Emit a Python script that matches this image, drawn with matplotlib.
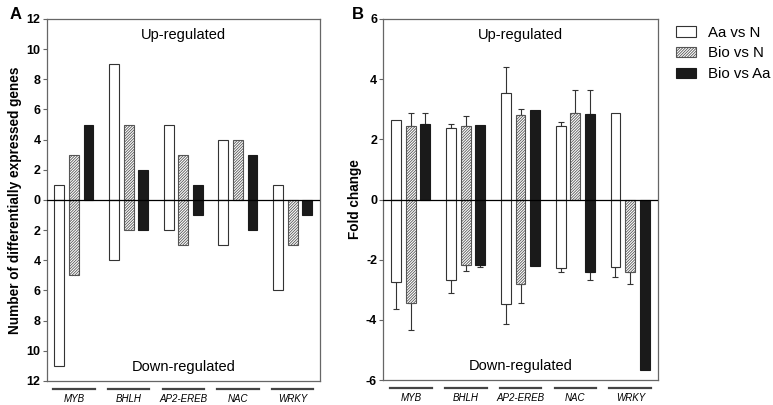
import matplotlib
matplotlib.use("Agg")
import matplotlib.pyplot as plt
import matplotlib.transforms as mtransforms
from matplotlib.patches import Patch
import numpy as np

plt.rcParams["font.family"] = ["Liberation Sans", "DejaVu Sans"]
plt.rcParams["hatch.linewidth"] = 0.6

# ============================================================
# Data
# ============================================================
families = ["MYB", "BHLH", "AP2-EREB", "NAC", "WRKY"]
series = ["Aa vs N", "Bio vs N", "Bio vs Aa"]

# Panel A: number of DEGs (up positive, down negative)
deg_up = {
    "Aa vs N": [1, 9, 5, 4, 1],
    "Bio vs N": [3, 5, 3, 4, 0],
    "Bio vs Aa": [5, 2, 1, 3, 0],
}
deg_down = {
    "Aa vs N": [-11, -4, -2, -3, -6],
    "Bio vs N": [-5, -2, -3, 0, -3],
    "Bio vs Aa": [0, -2, -1, -2, -1],
}

# Panel B: fold change (mean) with one-sided error
fc_up = {
    "Aa vs N": [2.65, 2.39, 3.55, 2.45, 2.87],
    "Bio vs N": [2.44, 2.43, 2.82, 2.89, 0],
    "Bio vs Aa": [2.52, 2.49, 2.96, 2.83, 0],
}
fc_up_err = {
    "Aa vs N": [np.nan, 0.11, 0.86, 0.14, np.nan],
    "Bio vs N": [0.42, 0.35, 0.18, 0.75, np.nan],
    "Bio vs Aa": [0.35, np.nan, np.nan, 0.81, np.nan],
}
fc_down = {
    "Aa vs N": [-2.75, -2.67, -3.47, -2.29, -2.26],
    "Bio vs N": [-3.44, -2.17, -2.80, 0, -2.40],
    "Bio vs Aa": [0, -2.17, -2.21, -2.41, -5.67],
}
fc_down_err = {
    "Aa vs N": [0.88, 0.43, 0.66, 0.11, 0.32],
    "Bio vs N": [0.89, 0.19, 0.64, np.nan, 0.40],
    "Bio vs Aa": [np.nan, 0.06, np.nan, 0.25, np.nan],
}

# ============================================================
# Styles
# ============================================================
styles = {
    "Aa vs N": dict(facecolor="white", edgecolor="#333333", hatch=None),
    "Bio vs N": dict(facecolor="white", edgecolor="#555555", hatch="////////////"),
    "Bio vs Aa": dict(facecolor="#1a1a1a", edgecolor="#1a1a1a", hatch=None),
}
offsets = [-0.27, 0.0, 0.265]
bar_w = 0.18
spine_col = "#666666"

fig = plt.figure(figsize=(7.73, 4.05), dpi=100)
axA = fig.add_axes([0.0604, 0.0593, 0.3536, 0.894])
axB = fig.add_axes([0.4959, 0.0617, 0.355, 0.8914])

centers = np.arange(len(families)) + 0.5


def draw_bars(ax, up, down):
    for k, s in enumerate(series):
        x = centers + offsets[k]
        for vals in (up[s], down[s]):
            vals = np.asarray(vals, dtype=float)
            m = vals != 0
            ax.bar(x[m], vals[m], width=bar_w, linewidth=0.8, zorder=2, **styles[s])


def draw_err(ax, vals, errs, sign):
    for k, s in enumerate(series):
        x = centers + offsets[k]
        v = np.asarray(vals[s], dtype=float)
        e = np.asarray(errs[s], dtype=float)
        m = ~np.isnan(e)
        if not m.any():
            continue
        if sign > 0:
            yerr = [np.zeros(m.sum()), e[m]]
        else:
            yerr = [e[m], np.zeros(m.sum())]
        ax.errorbar(x[m], v[m], yerr=yerr, fmt="none", ecolor="#333333",
                    elinewidth=0.8, capsize=2.5, capthick=0.8, zorder=1)


def style_axis(ax, lim, ticks, ticklabels, ylabel):
    ax.set_xlim(0, len(families))
    ax.set_ylim(-lim, lim)
    ax.set_yticks(ticks)
    ax.set_yticklabels(ticklabels, fontsize=9, fontweight="bold")
    ax.set_xticks([])
    ax.tick_params(axis="y", direction="out", length=3, width=0.8,
                   color=spine_col, pad=1.5)
    for sp in ax.spines.values():
        sp.set_color(spine_col)
        sp.set_linewidth(0.9)
    ax.axhline(0, color="black", linewidth=0.9, zorder=3)
    ax.set_ylabel(ylabel, fontsize=9.8, fontweight="bold", labelpad=3)
    ax.text(0.5, 0.955, "Up-regulated", transform=ax.transAxes,
            ha="center", va="center", fontsize=10.5)
    ax.text(0.5, 0.04, "Down-regulated", transform=ax.transAxes,
            ha="center", va="center", fontsize=10.5)
    trans = mtransforms.blended_transform_factory(ax.transData, ax.transAxes)
    for c, name in zip(centers, families):
        ax.plot([c - 0.38, c + 0.38], [-0.022, -0.022], color="#444444",
                linewidth=1.6, transform=trans, clip_on=False)
        ax.text(c, -0.05, name, transform=trans, ha="center", va="center",
                fontsize=7, style="italic")


# Panel A
draw_bars(axA, deg_up, deg_down)
ticksA = np.arange(-12, 13, 2)
style_axis(axA, 12, ticksA, [str(abs(t)) for t in ticksA],
           "Number of differentially expressed genes")

# Panel B
draw_bars(axB, fc_up, fc_down)
draw_err(axB, fc_up, fc_up_err, 1)
draw_err(axB, fc_down, fc_down_err, -1)
ticksB = np.arange(-6, 7, 2)
style_axis(axB, 6, ticksB, [str(t) for t in ticksB], "Fold change")

fig.text(0.013, 0.965, "A", fontsize=12, fontweight="bold", va="center")
fig.text(0.455, 0.965, "B", fontsize=12, fontweight="bold", va="center")

handles = [Patch(linewidth=0.8, **styles[s]) for s in series]
fig.legend(handles, series, loc="upper left", bbox_to_anchor=(0.874, 0.937),
           frameon=False, fontsize=10.8, handlelength=1.35, handleheight=0.7,
           handletextpad=0.8, labelspacing=0.45, borderaxespad=0, borderpad=0)

fig.savefig("out.png", dpi=100)
